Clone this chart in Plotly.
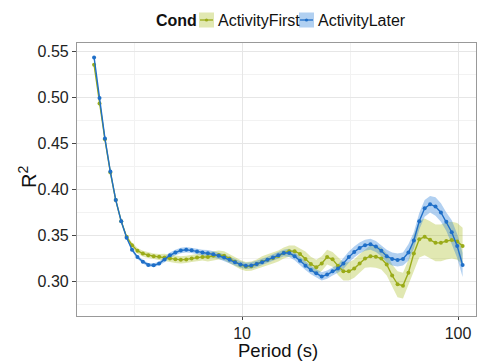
import plotly.graph_objects as go

# ---------------- data ----------------
PERIOD = [2.066, 2.189, 2.319, 2.457, 2.603, 2.758, 2.922, 3.095, 3.279, 3.474,
          3.681, 3.900, 4.132, 4.378, 4.638, 4.914, 5.206, 5.516, 5.844, 6.191,
          6.559, 6.949, 7.362, 7.800, 8.264, 8.756, 9.275, 9.828, 10.412, 11.032,
          11.687, 12.382, 13.118, 13.898, 14.725, 15.600, 16.528, 17.511, 18.550, 19.655,
          20.824, 22.063, 23.375, 24.765, 26.237, 27.798, 29.451, 31.202, 33.056, 35.021,
          37.103, 39.310, 41.648, 44.124, 46.747, 49.527, 52.472, 55.593, 58.899, 62.401,
          66.112, 70.043, 74.208, 78.621, 83.296, 88.250, 93.498, 99.058, 104.948]

ACTIVITY_FIRST = [0.535, 0.493, 0.454, 0.418, 0.388, 0.365, 0.348, 0.339, 0.333, 0.3298,
                  0.328, 0.327, 0.3263, 0.3256, 0.3246, 0.3236, 0.323, 0.3235, 0.3246, 0.3257,
                  0.3262, 0.3262, 0.3275, 0.3283, 0.3275, 0.3245, 0.321, 0.3178, 0.3158, 0.3162,
                  0.3185, 0.321, 0.3232, 0.325, 0.3272, 0.3305, 0.3325, 0.3325, 0.3295, 0.324,
                  0.3185, 0.315, 0.319, 0.326, 0.3236, 0.3165, 0.3105, 0.3105, 0.3135, 0.319,
                  0.3245, 0.327, 0.3265, 0.3245, 0.318, 0.306, 0.2965, 0.295, 0.309, 0.330,
                  0.3455, 0.348, 0.345, 0.3415, 0.3415, 0.3435, 0.3445, 0.343, 0.338]

ACTIVITY_LATER = [0.543, 0.499, 0.455, 0.419, 0.388, 0.365, 0.347, 0.334, 0.326, 0.321,
                  0.3175, 0.3172, 0.319, 0.3235, 0.328, 0.331, 0.3332, 0.334, 0.3335, 0.3322,
                  0.331, 0.3303, 0.329, 0.3275, 0.3255, 0.323, 0.3203, 0.318, 0.3165, 0.3168,
                  0.3185, 0.3205, 0.323, 0.3255, 0.328, 0.3305, 0.3305, 0.327, 0.322, 0.3165,
                  0.312, 0.3084, 0.305, 0.307, 0.3105, 0.3135, 0.319, 0.326, 0.3315, 0.336,
                  0.339, 0.3399, 0.3375, 0.333, 0.327, 0.324, 0.3228, 0.324, 0.331, 0.344,
                  0.365, 0.379, 0.3835, 0.381, 0.3745, 0.3645, 0.353, 0.338, 0.3174]

# half-width of the confidence ribbons
FIRST_CI = ([0.0015] * 7 + [0.003] * 6 + [0.004] * 8 + [0.005] * 10 + [0.006] * 8 +
            [0.008] * 6 + [0.010] * 6 + [0.012] * 5 + [0.014] * 3 + [0.020] * 10)
LATER_CI = ([0.001] * 7 + [0.002] * 6 + [0.003] * 8 + [0.0035] * 15 + [0.0045] * 10 +
            [0.006] * 8 + [0.007] * 4 + [0.009] * 5 + [0.010] * 3 + [0.013] * 3)

GROUPS = ["ActivityFirst", "ActivityLater"]
LEGEND_TITLE = "Cond"
X_TITLE = "Period (s)"
Y_TITLE = "R<sup>2</sup>"
X_TICKS = [10, 100]
X_TICK_LABELS = ["10", "100"]
X_MINOR = [3.1623, 31.623]
Y_TICKS = [0.30, 0.35, 0.40, 0.45, 0.50, 0.55]
Y_MINOR = [0.275, 0.325, 0.375, 0.425, 0.475, 0.525]

# ---------------- style ----------------
LINE_COLORS = ["#9aab18", "#1f6fc8"]
FILL_COLORS = ["rgba(165,185,20,0.33)", "rgba(40,125,215,0.36)"]
FONT = "Liberation Sans, Arial, sans-serif"

W, H = 477, 362
L, R, T, B = 77, 1, 43, 46

fig = go.Figure()

series = [ACTIVITY_FIRST, ACTIVITY_LATER]
cis = [FIRST_CI, LATER_CI]

# ribbons first (like ggplot geom_ribbon), then lines+points
for vals, ci, fc in zip(series, cis, FILL_COLORS):
    upper = [v + c for v, c in zip(vals, ci)]
    lower = [v - c for v, c in zip(vals, ci)]
    fig.add_trace(go.Scatter(
        x=PERIOD + PERIOD[::-1], y=upper + lower[::-1],
        fill="toself", fillcolor=fc, mode="lines", line=dict(width=0),
        hoverinfo="skip", showlegend=False))

for vals, name, lc in zip(series, GROUPS, LINE_COLORS):
    fig.add_trace(go.Scatter(
        x=PERIOD, y=vals, mode="lines+markers", name=name,
        line=dict(color=lc, width=1.4), marker=dict(color=lc, size=4),
        showlegend=False))

# ---------------- custom ggplot-like legend (paper coords) ----------------
pw = W - L - R
ph = H - T - B


def px_x(p):
    return (p - L) / pw


def px_y(p):
    return (H - B - p) / ph


ann = [dict(text="<b>%s</b>" % LEGEND_TITLE, x=px_x(154), y=px_y(20), xref="paper", yref="paper",
            xanchor="left", yanchor="middle", showarrow=False,
            font=dict(family=FONT, size=16, color="#111"))]
shapes = []
key_left = [199, 299]
text_left = [216, 316]
for i, name in enumerate(GROUPS):
    kx0, kx1 = key_left[i], key_left[i] + 15
    shapes.append(dict(type="rect", xref="paper", yref="paper",
                       x0=px_x(kx0), x1=px_x(kx1), y0=px_y(27.5), y1=px_y(12.5),
                       fillcolor=FILL_COLORS[i], line=dict(width=0)))
    shapes.append(dict(type="line", xref="paper", yref="paper",
                       x0=px_x(kx0 + 1), x1=px_x(kx1 - 1), y0=px_y(20), y1=px_y(20),
                       line=dict(color=LINE_COLORS[i], width=1.3)))
    cx = (kx0 + kx1) / 2
    shapes.append(dict(type="circle", xref="paper", yref="paper",
                       x0=px_x(cx - 1.6), x1=px_x(cx + 1.6), y0=px_y(21.6), y1=px_y(18.4),
                       fillcolor=LINE_COLORS[i], line=dict(width=0)))
    ann.append(dict(text=name, x=px_x(text_left[i]), y=px_y(20), xref="paper", yref="paper",
                    xanchor="left", yanchor="middle", showarrow=False,
                    font=dict(family=FONT, size=16, color="#111")))

# axis titles as annotations (placed like ggplot's)
ann.append(dict(text=Y_TITLE, x=px_x(27), y=px_y(177), xref="paper", yref="paper",
                xanchor="center", yanchor="middle", textangle=-90, showarrow=False,
                font=dict(family=FONT, size=20, color="#111")))
ann.append(dict(text=X_TITLE, x=px_x(278), y=px_y(361.5), xref="paper", yref="paper",
                xanchor="center", yanchor="bottom", showarrow=False, borderpad=0,
                font=dict(family=FONT, size=18.5, color="#111")))

fig.update_layout(
    width=W, height=H,
    margin=dict(l=L, r=R, t=T, b=B, pad=0),
    paper_bgcolor="white", plot_bgcolor="white",
    font=dict(family=FONT, color="#222"),
    showlegend=False,
    annotations=ann, shapes=shapes,
)

fig.update_xaxes(
    type="log", range=[0.236, 2.083],
    tickmode="array", tickvals=X_TICKS, ticktext=X_TICK_LABELS,
    ticks="outside", ticklen=3, tickcolor="#444", tickwidth=1,
    tickfont=dict(family=FONT, size=16, color="#222"),
    showgrid=True, gridcolor="#e6e6e6", gridwidth=1,
    minor=dict(tickmode="array", tickvals=X_MINOR, showgrid=True,
               gridcolor="#f2f2f2", gridwidth=1, ticks=""),
    showline=True, linecolor="#999", linewidth=1.2, mirror=True,
    zeroline=False,
)

fig.update_yaxes(
    range=[0.2620, 0.5587],
    tickmode="array", tickvals=Y_TICKS, tickformat=".2f",
    ticks="outside", ticklen=4, tickcolor="#444", tickwidth=1,
    tickfont=dict(family=FONT, size=16, color="#222"),
    showgrid=True, gridcolor="#e6e6e6", gridwidth=1,
    minor=dict(tickmode="array", tickvals=Y_MINOR, showgrid=True,
               gridcolor="#f2f2f2", gridwidth=1, ticks=""),
    showline=True, linecolor="#999", linewidth=1.2, mirror=True,
    zeroline=False,
)

fig.write_html("out.html", config={"displayModeBar": False},
               post_script="document.body.style.margin='0';document.body.style.overflow='hidden';")
